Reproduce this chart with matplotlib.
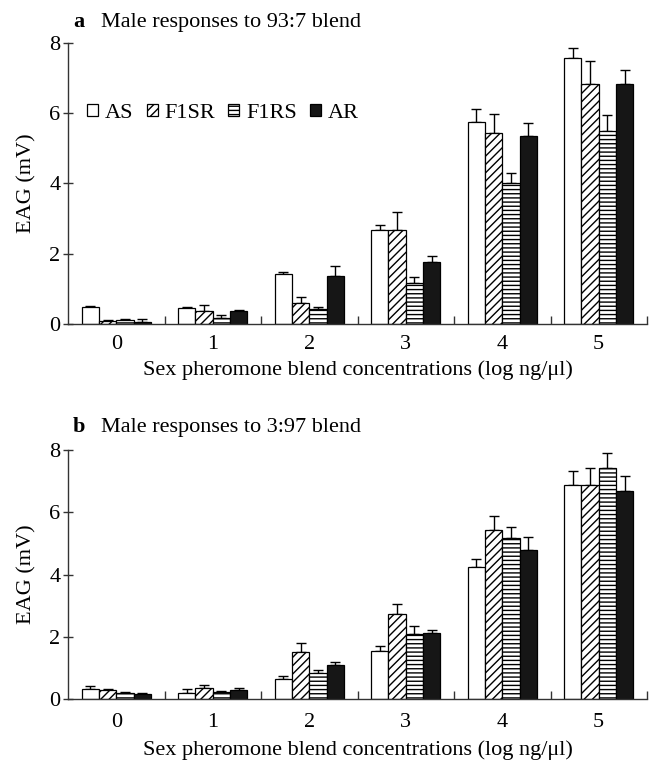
#!/usr/bin/env python3
"""
EAG responses of males to two sex pheromone blends.
"""

import numpy as np
import matplotlib
matplotlib.use('Agg')
import matplotlib.pyplot as plt
from matplotlib.patches import Patch
from matplotlib.ticker import FixedLocator

plt.rcParams['font.family'] = ['Liberation Serif', 'DejaVu Serif']
plt.rcParams['hatch.linewidth'] = 1.0

concentrations = ['0', '1', '2', '3', '4', '5']
strains = ['AS', 'F1SR', 'F1RS', 'AR']

# panel a: 93:7 blend
a_AS = [0.47, 0.45, 1.43, 2.68, 5.75, 7.56]
a_AS_err = [0.04, 0.04, 0.04, 0.15, 0.37, 0.31]
a_F1SR = [0.09, 0.37, 0.59, 2.68, 5.44, 6.82]
a_F1SR_err = [0.03, 0.18, 0.19, 0.51, 0.53, 0.68]
a_F1RS = [0.11, 0.16, 0.42, 1.16, 4.01, 5.50]
a_F1RS_err = [0.03, 0.11, 0.06, 0.19, 0.28, 0.44]
a_AR = [0.05, 0.38, 1.38, 1.77, 5.35, 6.82]
a_AR_err = [0.08, 0.03, 0.28, 0.18, 0.36, 0.41]

# panel b: 3:97 blend
b_AS = [0.31, 0.20, 0.63, 1.54, 4.23, 6.86]
b_AS_err = [0.11, 0.11, 0.10, 0.16, 0.26, 0.47]
b_F1SR = [0.28, 0.36, 1.51, 2.74, 5.42, 6.86]
b_F1SR_err = [0.03, 0.10, 0.30, 0.31, 0.46, 0.57]
b_F1RS = [0.19, 0.21, 0.85, 2.10, 5.17, 7.43]
b_F1RS_err = [0.03, 0.05, 0.08, 0.26, 0.35, 0.47]
b_AR = [0.16, 0.28, 1.09, 2.12, 4.80, 6.67]
b_AR_err = [0.04, 0.08, 0.10, 0.09, 0.42, 0.49]

facecolors = ['white', 'white', 'white', '#161616']
hatches = ['', '////', '----', '']
FS = 16


def drawPanel(ax, series, errors, tickpad=7.7, xlabelpad=5):
    """
    Draw one grouped bar panel with upward error bars.
    """
    x = np.arange(len(concentrations))
    width = 0.18
    offsets = [-1.5 * width, -0.5 * width, 0.5 * width, 1.5 * width]
    for vals, errs, off, fc, h in zip(series, errors, offsets, facecolors, hatches):
        ax.bar(x + off, vals, width, color=fc, edgecolor='black',
               linewidth=0.9, hatch=h, zorder=2)
        ax.errorbar(x + off, vals, yerr=[np.zeros(len(errs)), errs],
                    fmt='none', ecolor='black', elinewidth=1.0,
                    capsize=3.5, capthick=1.0, zorder=1)

    ax.set_xlim(-0.5, 5.5)
    ax.set_ylim(0, 8)
    ax.set_yticks([0, 2, 4, 6, 8])
    ax.set_xticks(x)
    ax.set_xticklabels(concentrations)
    ax.xaxis.set_minor_locator(FixedLocator(np.arange(0.5, 6, 1.0)))
    ax.tick_params(axis='x', which='major', length=0, pad=tickpad, labelsize=FS)
    ax.tick_params(axis='x', which='minor', direction='in', length=6,
                   width=1.0, color='#333333')
    ax.tick_params(axis='y', direction='inout', length=7, width=1.0,
                   pad=2, labelsize=FS, color='#333333')

    for side in ['top', 'right']:
        ax.spines[side].set_visible(False)
    for side in ['left', 'bottom']:
        ax.spines[side].set_color('#333333')
        ax.spines[side].set_linewidth(1.0)

    ax.set_ylabel('EAG (mV)', fontsize=FS, labelpad=9)
    ax.set_xlabel('Sex pheromone blend concentrations (log ng/\u03bcl)',
                  fontsize=FS, labelpad=xlabelpad)


W, H = 652, 764
fig = plt.figure(figsize=(W / 100, H / 100), dpi=100)

ax1 = fig.add_axes([68 / W, 1 - 324 / H, 579 / W, 281 / H])
ax2 = fig.add_axes([68 / W, 1 - 699 / H, 579 / W, 249 / H])

drawPanel(ax1, [a_AS, a_F1SR, a_F1RS, a_AR],
          [a_AS_err, a_F1SR_err, a_F1RS_err, a_AR_err],
          tickpad=7.7, xlabelpad=5)
drawPanel(ax2, [b_AS, b_F1SR, b_F1RS, b_AR],
          [b_AS_err, b_F1SR_err, b_F1RS_err, b_AR_err],
          tickpad=9.8, xlabelpad=6.3)

# panel titles
fig.text(73 / W, 1 - 27 / H, 'a', fontsize=FS, fontweight='bold', va='baseline')
fig.text(101 / W, 1 - 27 / H, 'Male responses to 93:7 blend', fontsize=FS, va='baseline')
fig.text(73 / W, 1 - 432 / H, 'b', fontsize=FS, fontweight='bold', va='baseline')
fig.text(101 / W, 1 - 432 / H, 'Male responses to 3:97 blend', fontsize=FS, va='baseline')

# legend on the top panel
handles = [Patch(facecolor=fc, edgecolor='black', hatch=h, linewidth=0.9)
           for fc, h in zip(facecolors, hatches)]
ax1.legend(handles, strains, ncol=4, frameon=False, fontsize=FS,
           loc='center left', bbox_to_anchor=(0.0, 0.75),
           handlelength=0.5, handleheight=0.5, handletextpad=0.3,
           columnspacing=0.6, borderaxespad=0.45)

fig.savefig('out.png', dpi=100)
